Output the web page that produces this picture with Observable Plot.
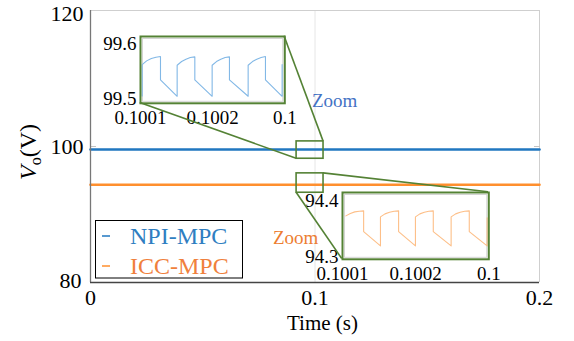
<!DOCTYPE html>
<html>
<head>
<meta charset="utf-8">
<script src="https://cdn.jsdelivr.net/npm/d3@7"></script>
<script src="https://cdn.jsdelivr.net/npm/@observablehq/plot@0.6"></script>
<style>
  html, body { margin: 0; padding: 0; background: #fff; }
  #wrap { position: relative; width: 574px; height: 341px; overflow: hidden; }
  #wrap > div, #wrap > svg { position: absolute; }
</style>
</head>
<body>
<div id="wrap"></div>
<script>
// ---------- data ----------
const seriesNames = ["NPI-MPC", "ICC-MPC"];
const mainTime = [0, 0.2];
const npiMain = [99.56, 99.56];
const iccMain = [94.37, 94.37];

const xDomain = [0, 0.2];
const yDomain = [80, 120];
const xTicks = [0, 0.1, 0.2];
const xTickLabels = ["0", "0.1", "0.2"];
const yTicks = [80, 100, 120];
const yTickLabels = ["80", "100", "120"];

// zoom windows (data space)
const zoomX = [0.0918, 0.1038];
const zoomYNpi = [98.2, 100.75];
const zoomYIcc = [93.2, 96.05];

// inset axes
const insetXDomain = [0.1001, 0.1003];
const insetXTicks = [0.1001, 0.1002, 0.1003];
const insetXTickLabels = ["0.1001", "0.1002", "0.1"];
const npiInsetY = [99.5, 99.6];
const npiInsetYLabels = ["99.5", "99.6"];
const iccInsetY = [94.3, 94.4];
const iccInsetYLabels = ["94.3", "94.4"];

// inset waveforms
const npiT = [0.1001023, 0.1001023, 0.1001085, 0.1001150, 0.1001215, 0.1001277, 0.1001277, 0.1001508,
              0.1001508, 0.1001570, 0.1001630, 0.1001690, 0.1001753, 0.1001753, 0.1001993,
              0.1001993, 0.1002053, 0.1002113, 0.1002173, 0.1002233, 0.1002233, 0.1002492,
              0.1002492, 0.1002552, 0.1002612, 0.1002672, 0.1002732, 0.1002732, 0.1002963,
              0.1002963];
const npiV = [99.511, 99.558, 99.5635, 99.567, 99.569, 99.570, 99.535, 99.5105,
              99.557, 99.5625, 99.566, 99.5685, 99.5695, 99.535, 99.5105,
              99.557, 99.5625, 99.566, 99.5685, 99.5695, 99.535, 99.5105,
              99.557, 99.5625, 99.566, 99.5685, 99.570, 99.535, 99.5105,
              99.558];
const iccT = [0.1001046, 0.1001107, 0.1001168, 0.1001229, 0.1001289, 0.1001289, 0.1001519,
              0.1001519, 0.1001581, 0.1001643, 0.1001705, 0.1001767, 0.1001767, 0.1001997,
              0.1001997, 0.1002058, 0.1002119, 0.1002180, 0.1002241, 0.1002241, 0.1002485,
              0.1002485, 0.1002547, 0.1002609, 0.1002671, 0.1002733, 0.1002733, 0.1002977,
              0.1002977];
const iccV = [94.365, 94.3685, 94.371, 94.372, 94.3725, 94.3415, 94.320,
              94.3635, 94.368, 94.3705, 94.372, 94.3725, 94.3415, 94.320,
              94.3635, 94.368, 94.3705, 94.372, 94.3725, 94.3415, 94.320,
              94.3635, 94.368, 94.3705, 94.372, 94.3725, 94.3415, 94.320,
              94.362];

// ---------- styles ----------
const FONT = "'Liberation Serif', 'Times New Roman', 'DejaVu Serif', serif";
const blue = "#2077c0";
const orange = "#ff8f2e";
const green = "#548235";
const lightBlue = "#82b8e6";
const lightOrange = "#fdbf88";

const wrap = document.getElementById("wrap");

// ---------- main chart ----------
const yLab = d => yTickLabels[yTicks.indexOf(d)];
const main = Plot.plot({
  width: 574, height: 341,
  marginLeft: 90, marginRight: 35, marginTop: 10, marginBottom: 59,
  style: {fontFamily: FONT, fontSize: "22px", background: "transparent", color: "#000", overflow: "visible"},
  x: {domain: xDomain, label: null, axis: null},
  y: {domain: yDomain, label: null, axis: null},
  marks: [
    Plot.ruleX([xTicks[1]], {stroke: "#e6e6e6", strokeWidth: 1}),
    Plot.ruleY([yDomain[1]], {stroke: "#cfcfcf"}),
    Plot.ruleX([xDomain[1]], {stroke: "#cfcfcf"}),
    Plot.axisY([yTicks[1]], {anchor: "left", tickSize: -6, stroke: "#c4c4c4", tickFormat: () => "", label: null}),
    Plot.axisY([yTicks[1]], {anchor: "right", tickSize: -6, stroke: "#c4c4c4", tickFormat: () => "", label: null}),
    Plot.line(mainTime, {x: d => d, y: (d, i) => npiMain[i], stroke: blue, strokeWidth: 2.6}),
    Plot.line(mainTime, {x: d => d, y: (d, i) => iccMain[i], stroke: orange, strokeWidth: 2.6}),
    Plot.rect([zoomYNpi, zoomYIcc], {x1: () => zoomX[0], x2: () => zoomX[1], y1: d => d[0], y2: d => d[1],
      fill: "none", stroke: green, strokeWidth: 1.6}),
    Plot.ruleX([xDomain[0]], {stroke: "#777", strokeWidth: 1.3}),
    Plot.ruleY([yDomain[0]], {stroke: "#444", strokeWidth: 1.3}),
    Plot.axisX(xTicks, {tickSize: 0, tickPadding: 7, tickFormat: (d, i) => xTickLabels[i], label: null}),
    Plot.axisY([yTicks[2]], {tickSize: 0, tickPadding: 7, dy: 3, tickFormat: yLab, label: null}),
    Plot.axisY([yTicks[1]], {tickSize: 0, tickPadding: 7, tickFormat: yLab, label: null}),
    Plot.axisY([yTicks[0]], {tickSize: 0, tickPadding: 9, dy: -2, tickFormat: yLab, label: null})
  ]
});
main.style.left = "0px"; main.style.top = "0px";
wrap.appendChild(main);

const sx = main.scale("x"), sy = main.scale("y");

// y label with italic V and subscript o
const msvg = d3.select(main);
const yl = msvg.append("text")
  .attr("transform", "translate(36,152) rotate(-90)")
  .attr("text-anchor", "middle")
  .attr("font-family", FONT).attr("font-size", 24).attr("fill", "#000");
yl.append("tspan").attr("font-style", "italic").text("V");
yl.append("tspan").attr("font-size", 16).attr("dy", 5).text("o");
yl.append("tspan").attr("dy", -5).text("(V)");
msvg.append("text")
  .attr("x", (sx.apply(xDomain[0]) + sx.apply(xDomain[1])) / 2 + 8).attr("y", 330)
  .attr("text-anchor", "middle")
  .attr("font-family", FONT).attr("font-size", 21).attr("fill", "#000")
  .text("Time (s)");

// ---------- insets ----------
function makeInset(t, v, color, yDom, yLabels, box, dyTop, dyBot, xPad) {
  const ml = 50, mr = 20, mt = 12, mb = 30;
  const p = Plot.plot({
    width: box.w + ml + mr, height: box.h + mt + mb,
    marginLeft: ml, marginRight: mr, marginTop: mt, marginBottom: mb,
    style: {fontFamily: FONT, fontSize: "19px", background: "transparent", color: "#000", overflow: "visible"},
    x: {domain: insetXDomain, label: null, axis: null},
    y: {domain: yDom, label: null, axis: null},
    marks: [
      Plot.frame({fill: "#fff", stroke: "#d4d4d4", inset: 2}),
      Plot.line(t, {x: d => d, y: (d, i) => v[i], stroke: color, strokeWidth: 1.1}),
      Plot.frame({stroke: green, strokeWidth: 2}),
      Plot.axisX(insetXTicks, {tickSize: 0, tickPadding: xPad, tickFormat: (d, i) => insetXTickLabels[i], label: null}),
      Plot.axisY([yDom[1]], {tickSize: 0, tickPadding: 4, dy: dyTop, tickFormat: () => yLabels[1], label: null}),
      Plot.axisY([yDom[0]], {tickSize: 0, tickPadding: 4, dy: dyBot, tickFormat: () => yLabels[0], label: null})
    ]
  });
  p.style.left = (box.x - ml) + "px";
  p.style.top = (box.y - mt) + "px";
  wrap.appendChild(p);
}
const npiBox = {x: 139.7, y: 35.7, w: 144.3, h: 66.8};
const iccBox = {x: 341.7, y: 191.7, w: 146.3, h: 66.8};
makeInset(npiT, npiV, lightBlue, npiInsetY, npiInsetYLabels, npiBox, 7, -4, 7);
makeInset(iccT, iccV, lightOrange, iccInsetY, iccInsetYLabels, iccBox, 8, -2, 7);

// ---------- overlay: connectors, zoom labels, legend ----------
const ov = d3.create("svg").attr("width", 574).attr("height", 341)
  .style("left", "0px").style("top", "0px").style("pointer-events", "none");
const conn = [
  [npiBox.x + npiBox.w, npiBox.y, sx.apply(zoomX[1]), sy.apply(zoomYNpi[1])],
  [npiBox.x, npiBox.y + npiBox.h, sx.apply(zoomX[0]), sy.apply(zoomYNpi[0])],
  [sx.apply(zoomX[1]), sy.apply(zoomYIcc[1]), iccBox.x + iccBox.w, iccBox.y],
  [sx.apply(zoomX[0]), sy.apply(zoomYIcc[0]), iccBox.x, iccBox.y + iccBox.h]
];
ov.selectAll("line.c").data(conn).join("line")
  .attr("x1", d => d[0]).attr("y1", d => d[1]).attr("x2", d => d[2]).attr("y2", d => d[3])
  .attr("stroke", green).attr("stroke-width", 1.6);

ov.append("text").attr("x", 312).attr("y", 100).attr("dy", "0.35em")
  .attr("font-family", FONT).attr("font-size", 19).attr("fill", "#4472c4").text("Zoom");
ov.append("text").attr("x", 273).attr("y", 237).attr("dy", "0.35em")
  .attr("font-family", FONT).attr("font-size", 19).attr("fill", "#ed7d31").text("Zoom");

// legend
const lg = ov.append("g");
lg.append("rect").attr("x", 95.5).attr("y", 220.5).attr("width", 147).attr("height", 57.5)
  .attr("fill", "#fff").attr("stroke", "#000").attr("stroke-width", 1);
const legColors = [blue, orange];
const legText = ["#2f7ec1", "#f0803c"];
seriesNames.forEach((name, i) => {
  const yy = 236 + i * 30;
  lg.append("line").attr("x1", 102).attr("x2", 110).attr("y1", yy).attr("y2", yy)
    .attr("stroke", legColors[i]).attr("stroke-width", 1.5);
  lg.append("text").attr("x", 130).attr("y", yy).attr("dy", "0.33em")
    .attr("font-family", FONT).attr("font-size", 24).attr("fill", legText[i]).text(name);
});
wrap.appendChild(ov.node());
</script>
</body>
</html>
